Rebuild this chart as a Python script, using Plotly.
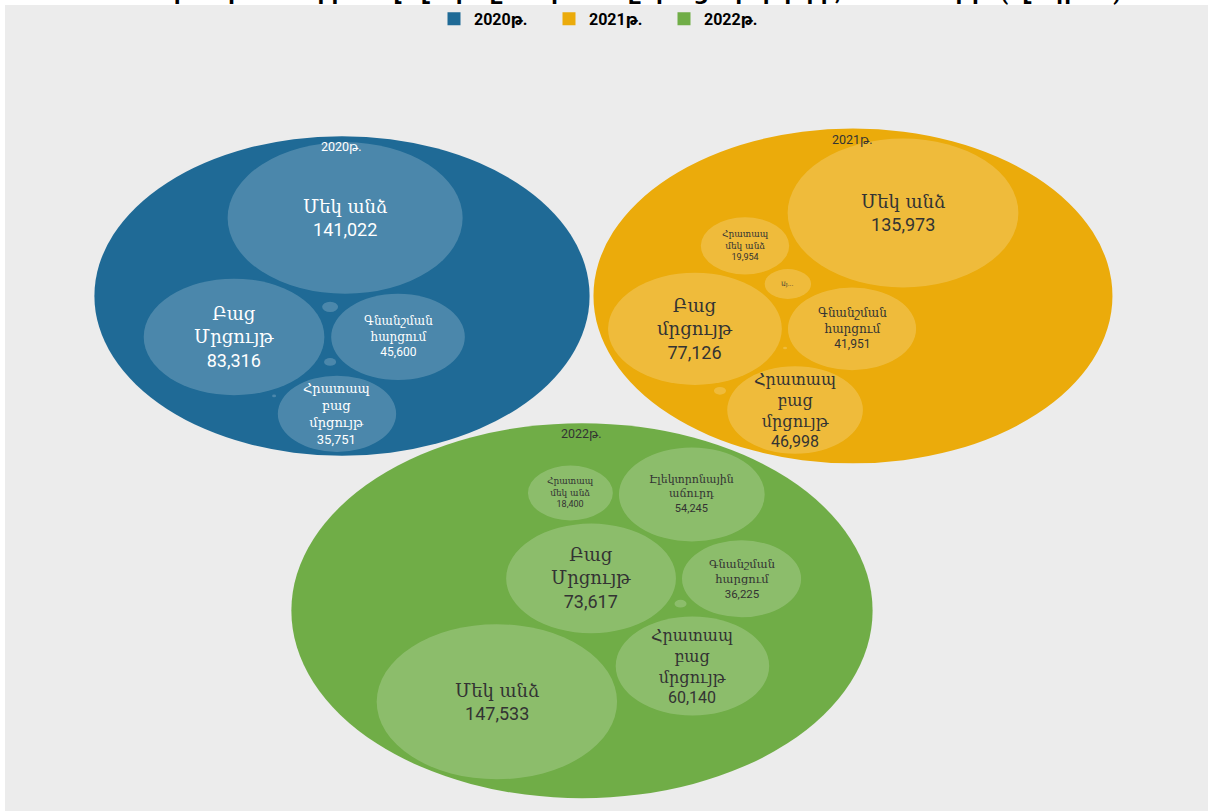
import math
import plotly.graph_objects as go

# ---------------- data ----------------
YEARS = ["2020թ.", "2021թ.", "2022թ."]

CATS_2020 = ["Մեկ անձ", "Բաց Մրցույթ", "Գնանշման հարցում", "Հրատապ բաց մրցույթ",
             "Հրատապ մեկ անձ", "Էլեկտրոնային աճուրդ", "Այլ"]
VALUES_2020 = [141022, 83316, 45600, 35751, 650, 370, 40]

CATS_2021 = ["Մեկ անձ", "Հրատապ մեկ անձ", "Այլ", "Բաց մրցույթ", "Գնանշման հարցում",
             "Հրատապ բաց մրցույթ", "Էլեկտրոնային աճուրդ", "Հրատապ գնանշման հարցում"]
VALUES_2021 = [135973, 19954, 5500, 77126, 41951, 46998, 370, 40]

CATS_2022 = ["Հրատապ մեկ անձ", "Էլեկտրոնային աճուրդ", "Բաց Մրցույթ", "Գնանշման հարցում",
             "Հրատապ բաց մրցույթ", "Մեկ անձ", "Այլ"]
VALUES_2022 = [18400, 54245, 73617, 36225, 60140, 147533, 370]

TITLE = "Պետական գնումների ծավալներն ըստ գնման ընթացակարգերի, 2020-2022թթ. (մլն դրամ)"

# ---------------- layout (packing positions, styles) ----------------
# Both axes are in "sqrt(value)" units, so a bubble of value v has radius sqrt(v).
PARENT_CENTRES = [(1077, 1441), (2710, 1441), (1844, 3000)]
OFFSETS = [
    [(10, -386), (-345, 203), (179, 203), (-16, 584), (-38, 54), (-38, 327), (-217, 495)],
    [(160, -411), (-345, -248), (-208, -59), (-505, 163), (-3, 163), (-185, 565), (-425, 470), (-217, 258)],
    [(-37, -583), (351, -576), (29, -160), (510, -158), (353, 274), (-272, 451), (315, -35)],
]
FONT_SIZES = [
    [18, 18, 12, 13, 0, 0, 0],
    [18, 9, 6, 18, 12, 16, 0, 0],
    [9, 11, 18, 11.5, 16, 18, 0],
]
PARENT_COLORS = ["#1f6a96", "#ebab0b", "#70ad47"]
CHILD_FILL = "rgba(255,255,255,0.2)"
LABEL_COLORS = ["#ffffff", "#333333", "#333333"]
PAD = 18
NAME_FONT = "DejaVu Serif"
NUM_FONT = "Roboto"

W, H = 1208, 811
ML, MR, MT, MB = 5, 0, 5, 0
PX_PER_UNIT_X = 0.3129
PX_PER_UNIT_Y = 0.2019

groups = [(CATS_2020, VALUES_2020), (CATS_2021, VALUES_2021), (CATS_2022, VALUES_2022)]


def wrap(text, width=7):
    lines, cur = [], ""
    for w in text.split():
        if not cur:
            cur = w
        elif len(cur) + 1 + len(w) <= width:
            cur += " " + w
        else:
            lines.append(cur)
            cur = w
    lines.append(cur)
    return lines


def span(txt, family):
    return f"<span style=\"font-family:'{family}'\">{txt}</span>"


fig = go.Figure()
shapes = []
annotations = []

for gi, (cats, vals) in enumerate(groups):
    pcx, pcy = PARENT_CENTRES[gi]
    radii = [math.sqrt(v) for v in vals]
    centres = [(pcx + dx, pcy + dy) for dx, dy in OFFSETS[gi]]
    R = max(math.hypot(cx - pcx, cy - pcy) + r for (cx, cy), r in zip(centres, radii)) + PAD
    shapes.append(dict(type="circle", xref="x", yref="y", x0=pcx - R, x1=pcx + R,
                       y0=pcy - R, y1=pcy + R, fillcolor=PARENT_COLORS[gi],
                       line=dict(width=0), layer="below"))
    annotations.append(dict(x=pcx, y=pcy - R, xref="x", yref="y", text=YEARS[gi],
                            showarrow=False, yanchor="top", yshift=-1,
                            font=dict(family="Roboto, 'DejaVu Sans', sans-serif", size=12.5,
                                      color=LABEL_COLORS[gi])))
    for (cx, cy), r, name, v, fs in zip(centres, radii, cats, vals, FONT_SIZES[gi]):
        shapes.append(dict(type="circle", xref="x", yref="y", x0=cx - r, x1=cx + r,
                           y0=cy - r, y1=cy + r, fillcolor=CHILD_FILL,
                           line=dict(width=0), layer="below"))
        if fs <= 0:
            continue
        if r < 100:
            text = span(name[:2] + "...", NAME_FONT)
        else:
            text = "<br>".join([span(l, NAME_FONT) for l in wrap(name)] +
                               [span(f"{v:,}", NUM_FONT)])
        annotations.append(dict(x=cx, y=cy, xref="x", yref="y", text=text, showarrow=False,
                                xanchor="center", yanchor="middle", align="center",
                                font=dict(family=NUM_FONT, size=fs, color=LABEL_COLORS[gi])))

# legend entries
for gi, yr in enumerate(YEARS):
    fig.add_trace(go.Scatter(x=[None], y=[None], mode="markers", name=yr,
                             marker=dict(symbol="square", size=13, color=PARENT_COLORS[gi]),
                             hoverinfo="skip"))

# title, mostly above the visible page (as in the reference)
annotations.append(dict(x=0.5, y=1 + 13 / (H - MT - MB), xref="paper", yref="paper",
                        text=TITLE, showarrow=False, xanchor="center", yanchor="middle",
                        font=dict(family="Roboto, 'DejaVu Sans', sans-serif", size=22,
                                  color="#000000", weight="bold")))

plot_w = W - ML - MR
plot_h = H - MT - MB
fig.update_layout(
    width=W, height=H,
    margin=dict(l=ML, r=MR, t=MT, b=MB, pad=0),
    paper_bgcolor="#ffffff",
    plot_bgcolor="#ececec",
    shapes=shapes,
    annotations=annotations,
    showlegend=True,
    legend=dict(orientation="h", x=0.5, xanchor="center", y=1.004, yanchor="top",
                bgcolor="rgba(0,0,0,0)",
                font=dict(family="Roboto, 'DejaVu Sans', sans-serif", size=16,
                          color="#000000", weight="bold"),
                itemwidth=30, tracegroupgap=0, entrywidth=70, entrywidthmode="pixels"),
    xaxis=dict(range=[0, plot_w / PX_PER_UNIT_X], visible=False, fixedrange=True),
    yaxis=dict(range=[plot_h / PX_PER_UNIT_Y, 0], visible=False, fixedrange=True),
)

fig.write_html("out.html", config={"displayModeBar": False},
               post_script="document.body.style.margin='0';")
